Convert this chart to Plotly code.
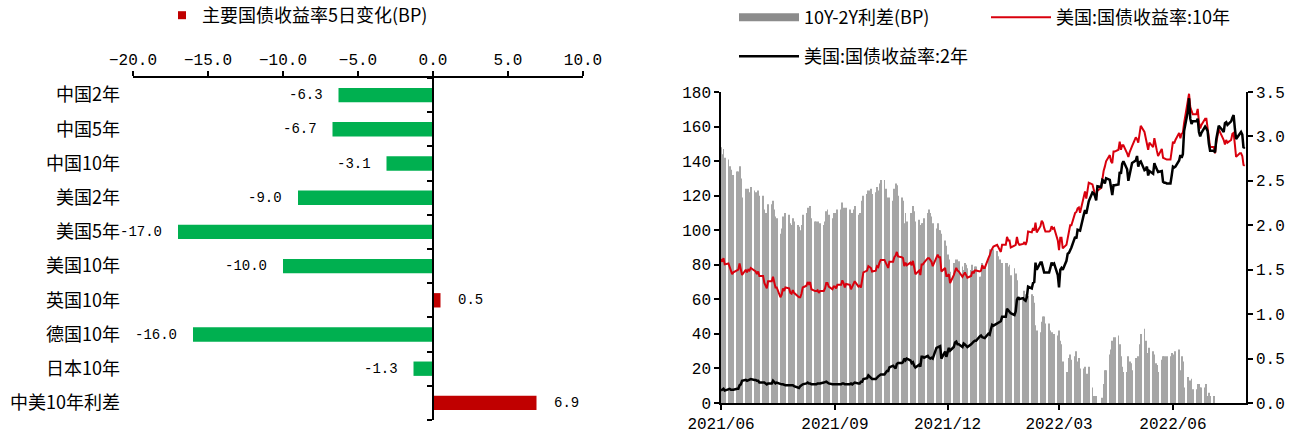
import pandas as pd
import plotly.graph_objects as go

W, H = 1303, 437

# ---------------- left chart data ----------------
categories = ["中国2年", "中国5年", "中国10年", "美国2年", "美国5年",
              "美国10年", "英国10年", "德国10年", "日本10年", "中美10年利差"]
changes = [-6.3, -6.7, -3.1, -9.0, -17.0, -10.0, 0.5, -16.0, -1.3, 6.9]
left_ticks = [-20, -15, -10, -5, 0, 5, 10]

# ---------------- right chart data (daily, business days from 2021-06-01) ----------------
start_date = "2021-06-01"
us10y = [
    # 2021-06
    1.62, 1.59, 1.63, 1.56, 1.57, 1.53, 1.50, 1.45, 1.47, 1.50, 1.50, 1.57, 1.51, 1.44, 1.50, 1.47, 1.50, 1.49, 1.52, 1.49, 1.48, 1.45,
    # 2021-07
    1.48, 1.43, 1.43, 1.35, 1.32, 1.29, 1.37, 1.37, 1.42, 1.35, 1.30, 1.30, 1.19, 1.22, 1.29, 1.26, 1.30, 1.29, 1.24, 1.23, 1.27, 1.24,
    # 2021-08
    1.20, 1.19, 1.19, 1.23, 1.30, 1.32, 1.36, 1.34, 1.36, 1.28, 1.26, 1.26, 1.27, 1.24, 1.26, 1.26, 1.29, 1.35, 1.35, 1.31, 1.28, 1.31,
    # 2021-09
    1.31, 1.29, 1.33, 1.33, 1.38, 1.35, 1.30, 1.34, 1.33, 1.28, 1.31, 1.34, 1.37, 1.31, 1.32, 1.30, 1.41, 1.47, 1.49, 1.54, 1.53, 1.52,
    # 2021-10
    1.48, 1.49, 1.54, 1.53, 1.58, 1.61, 1.61, 1.58, 1.55, 1.52, 1.59, 1.59, 1.64, 1.66, 1.70, 1.65, 1.64, 1.63, 1.54, 1.58, 1.55,
    # 2021-11
    1.58, 1.55, 1.60, 1.53, 1.45, 1.49, 1.44, 1.56, 1.56, 1.58, 1.63, 1.63, 1.60, 1.59, 1.54, 1.63, 1.67, 1.64, 1.64, 1.48, 1.52, 1.43,
    # 2021-12
    1.43, 1.45, 1.35, 1.44, 1.48, 1.52, 1.49, 1.48, 1.42, 1.44, 1.47, 1.44, 1.41, 1.43, 1.48, 1.46, 1.49, 1.49, 1.48, 1.49, 1.55, 1.52, 1.52,
    # 2022-01
    1.63, 1.66, 1.71, 1.73, 1.76, 1.78, 1.75, 1.74, 1.70, 1.78, 1.78, 1.87, 1.83, 1.83, 1.75, 1.77, 1.78, 1.87, 1.80, 1.78, 1.79,
    # 2022-02
    1.81, 1.78, 1.82, 1.93, 1.92, 1.97, 1.94, 2.03, 1.92, 1.99, 2.05, 2.03, 1.97, 1.93, 1.93, 1.94, 1.99, 1.96, 1.97, 1.83,
    # 2022-03
    1.72, 1.86, 1.86, 1.74, 1.78, 1.86, 1.95, 2.00, 2.00, 2.14, 2.15, 2.19, 2.20, 2.14, 2.32, 2.38, 2.30, 2.37, 2.48, 2.46, 2.40, 2.35, 2.32,
    # 2022-04
    2.39, 2.42, 2.54, 2.61, 2.66, 2.72, 2.79, 2.72, 2.70, 2.83, 2.83, 2.85, 2.94, 2.85, 2.90, 2.90, 2.81, 2.77, 2.82, 2.85, 2.89,
    # 2022-05
    2.99, 2.97, 2.93, 3.05, 3.12, 3.05, 2.99, 2.91, 2.85, 2.93, 2.88, 2.98, 2.89, 2.84, 2.78, 2.86, 2.76, 2.75, 2.75, 2.74, 2.74, 2.85,
    # 2022-06
    2.94, 2.92, 2.96, 3.04, 2.98, 3.03, 3.04, 3.15, 3.43, 3.48, 3.33, 3.28, 3.25, 3.25, 3.31, 3.16, 3.09, 3.13, 3.20, 3.20, 3.10, 2.98,
    # 2022-07
    2.88, 2.88, 2.81, 2.93, 3.00, 3.08, 2.99, 2.96, 2.91, 2.96, 2.93, 2.96, 3.03, 3.04, 2.91, 2.77, 2.81, 2.81, 2.78, 2.68, 2.67,
]
us2y = [
    # 2021-06
    0.14, 0.15, 0.16, 0.14, 0.16, 0.16, 0.15, 0.15, 0.15, 0.16, 0.16, 0.20, 0.21, 0.25, 0.26, 0.25, 0.26, 0.27, 0.27, 0.26, 0.26, 0.25,
    # 2021-07
    0.25, 0.23, 0.23, 0.23, 0.22, 0.21, 0.22, 0.22, 0.25, 0.23, 0.22, 0.23, 0.21, 0.21, 0.21, 0.20, 0.20, 0.20, 0.20, 0.20, 0.20, 0.19,
    # 2021-08
    0.17, 0.17, 0.19, 0.20, 0.21, 0.22, 0.23, 0.22, 0.22, 0.21, 0.21, 0.21, 0.22, 0.22, 0.22, 0.23, 0.24, 0.24, 0.23, 0.22, 0.21, 0.21,
    # 2021-09
    0.21, 0.21, 0.21, 0.21, 0.22, 0.22, 0.21, 0.21, 0.21, 0.22, 0.21, 0.22, 0.23, 0.22, 0.22, 0.24, 0.24, 0.27, 0.28, 0.31, 0.30, 0.28,
    # 2021-10
    0.27, 0.27, 0.29, 0.30, 0.31, 0.32, 0.32, 0.34, 0.36, 0.36, 0.40, 0.42, 0.40, 0.39, 0.44, 0.45, 0.45, 0.46, 0.50, 0.48, 0.50,
    # 2021-11
    0.48, 0.45, 0.46, 0.42, 0.40, 0.43, 0.41, 0.52, 0.52, 0.51, 0.53, 0.51, 0.50, 0.51, 0.50, 0.62, 0.63, 0.64, 0.64, 0.50, 0.58, 0.52,
    # 2021-12
    0.57, 0.62, 0.59, 0.63, 0.68, 0.69, 0.66, 0.66, 0.63, 0.67, 0.66, 0.64, 0.63, 0.66, 0.68, 0.69, 0.70, 0.70, 0.75, 0.76, 0.74, 0.73, 0.73,
    # 2022-01
    0.78, 0.77, 0.83, 0.88, 0.87, 0.90, 0.90, 0.91, 0.92, 0.97, 0.97, 1.06, 1.04, 1.03, 1.01, 0.99, 1.03, 1.16, 1.19, 1.17, 1.18,
    # 2022-02
    1.16, 1.15, 1.19, 1.31, 1.29, 1.35, 1.36, 1.58, 1.50, 1.58, 1.58, 1.53, 1.47, 1.47, 1.47, 1.52, 1.58, 1.56, 1.57, 1.44,
    # 2022-03
    1.30, 1.50, 1.52, 1.50, 1.60, 1.68, 1.69, 1.72, 1.75, 1.87, 1.85, 1.95, 1.94, 1.94, 2.12, 2.17, 2.13, 2.20, 2.27, 2.37, 2.36, 2.33, 2.28,
    # 2022-04
    2.44, 2.43, 2.51, 2.50, 2.47, 2.53, 2.51, 2.41, 2.34, 2.45, 2.45, 2.46, 2.60, 2.58, 2.69, 2.72, 2.63, 2.50, 2.58, 2.62, 2.70,
    # 2022-05
    2.73, 2.78, 2.66, 2.71, 2.72, 2.62, 2.63, 2.66, 2.56, 2.61, 2.58, 2.70, 2.66, 2.62, 2.60, 2.61, 2.49, 2.48, 2.48, 2.47, 2.47, 2.56,
    # 2022-06
    2.66, 2.65, 2.66, 2.73, 2.79, 2.76, 2.80, 3.06, 3.28, 3.43, 3.20, 3.14, 3.17, 3.17, 3.20, 3.05, 3.00, 3.04, 3.11, 3.09, 3.06, 2.92,
    # 2022-07
    2.84, 2.84, 2.82, 2.97, 3.03, 3.12, 3.07, 3.05, 3.15, 3.16, 3.13, 3.17, 3.21, 3.24, 3.09, 2.97, 3.03, 3.05, 3.02, 2.87, 2.88,
]
date_ticks = ["2021-06-01", "2021-09-01", "2021-12-01", "2022-03-01", "2022-06-01"]

dates = pd.bdate_range(start=start_date, periods=len(us10y))
spread_bp = [round((a - b) * 100, 1) for a, b in zip(us10y, us2y)]

# ---------------- styling ----------------
CJK = "Noto Sans CJK SC"
MONO = "Liberation Mono"
GREEN, DARKRED = "#00B050", "#C00000"
RED, BLACK, GRAY = "#D9000D", "#000000", "#A6A6A6"


def px_x(p):
    return p / W


def px_y(p):
    return 1 - p / H


left_dom = [px_x(133), px_x(583)]
left_rng = [min(left_ticks), max(left_ticks)]
zero_pos = left_dom[0] + (0 - left_rng[0]) / (left_rng[1] - left_rng[0]) * (left_dom[1] - left_dom[0])
pos = list(range(len(categories)))

fig = go.Figure()

# left bars
fig.add_trace(go.Bar(
    x=changes, y=pos, orientation="h", width=0.42,
    marker=dict(color=[DARKRED if v > 0 else GREEN for v in changes], line_width=0),
    xaxis="x", yaxis="y", showlegend=False, hoverinfo="skip",
))
# legend entry for the left chart
fig.add_trace(go.Scatter(
    x=[None], y=[None], mode="markers", name="主要国债收益率5日变化(BP)",
    marker=dict(symbol="square", size=8, color=DARKRED),
    xaxis="x", yaxis="y", legend="legend",
))
# invisible trace on the zero-axis
fig.add_trace(go.Scatter(
    x=[0], y=[0], mode="markers", marker=dict(opacity=0), xaxis="x", yaxis="y2",
    showlegend=False, hoverinfo="skip",
))
for i, v in enumerate(changes):
    fig.add_annotation(
        x=v, y=i, xref="x", yref="y", text=f"{v:.1f}", showarrow=False,
        xanchor="right" if v < 0 else "left", xshift=-14 if v < 0 else 15,
        font=dict(family=MONO, size=14, color="#000"),
    )

# right chart
fig.add_trace(go.Bar(
    x=dates, y=spread_bp, marker=dict(color=GRAY, line_width=0),
    xaxis="x2", yaxis="y3", showlegend=False, hoverinfo="skip",
))
fig.add_trace(go.Scatter(
    x=[None], y=[None], mode="lines", name="10Y-2Y利差(BP)",
    line=dict(color="#8C8C8C", width=8), xaxis="x2", yaxis="y3", legend="legend2",
))
fig.add_trace(go.Scatter(
    x=dates, y=us10y, mode="lines", name="美国:国债收益率:10年",
    line=dict(color=RED, width=2), xaxis="x2", yaxis="y4", legend="legend2",
))
fig.add_trace(go.Scatter(
    x=dates, y=us2y, mode="lines", name="美国:国债收益率:2年",
    line=dict(color=BLACK, width=2.5), xaxis="x2", yaxis="y4", legend="legend3",
))

axis_common = dict(showgrid=False, zeroline=False, showline=True, linecolor="#000",
                   linewidth=1.5, ticks="outside", ticklen=5, tickcolor="#000", tickwidth=1.5)

fig.update_layout(
    width=W, height=H, autosize=False,
    margin=dict(l=0, r=0, t=0, b=0, pad=0, autoexpand=False),
    paper_bgcolor="white", plot_bgcolor="white",
    barmode="overlay", bargap=0.3,
    font=dict(family=CJK, size=16, color="#000"),
    xaxis=dict(domain=left_dom, range=left_rng, side="top", anchor="y",
               tickvals=left_ticks, tickformat=".1f",
               tickfont=dict(family=MONO, size=16), **axis_common),
    yaxis=dict(domain=[px_y(420), px_y(78)], range=[len(categories) - 0.5, -0.5],
               anchor="free", position=px_x(120), tickvals=pos, ticktext=categories,
               showgrid=False, zeroline=False, showline=False, ticks="",
               tickfont=dict(family=CJK, size=18)),
    yaxis2=dict(overlaying="y", range=[len(categories) - 0.5, -0.5], anchor="free",
                position=zero_pos, side="left",
                tickvals=[p - 0.5 for p in pos] + [len(categories) - 0.5],
                showticklabels=False, **axis_common),
    xaxis2=dict(domain=[px_x(721), px_x(1246)], anchor="y3", type="date",
                range=["2021-06-01", "2022-07-30"], tickvals=date_ticks,
                tickformat="%Y/%m", tickfont=dict(family=MONO, size=16), **axis_common),
    yaxis3=dict(domain=[px_y(403), px_y(92)], anchor="x2", range=[0, 180], dtick=20,
                tickfont=dict(family=MONO, size=16), **axis_common),
    yaxis4=dict(overlaying="y3", anchor="x2", side="right", range=[0, 3.5], dtick=0.5,
                tickformat=".1f", tickfont=dict(family=MONO, size=16), **axis_common),
    legend=dict(x=px_x(162), y=px_y(-3), xanchor="left", yanchor="top",
                bgcolor="rgba(0,0,0,0)", font=dict(family=CJK, size=18)),
    legend2=dict(x=px_x(734), y=px_y(-1), xanchor="left", yanchor="top", orientation="h",
                 entrywidth=177, entrywidthmode="pixels", itemwidth=60,
                 bgcolor="rgba(0,0,0,0)", font=dict(family=CJK, size=18)),
    legend3=dict(x=px_x(734), y=px_y(38), xanchor="left", yanchor="top", orientation="h",
                 itemwidth=60, bgcolor="rgba(0,0,0,0)", font=dict(family=CJK, size=18)),
)

fig.write_html("out.html", config={"displayModeBar": False},
               post_script="document.body.style.margin='0';")
